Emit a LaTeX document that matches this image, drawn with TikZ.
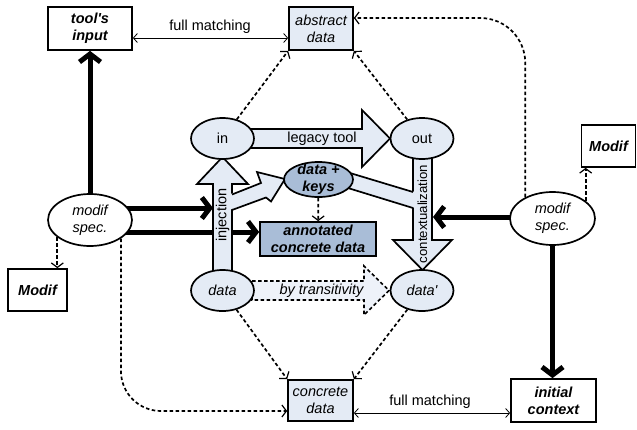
\documentclass[tikz,border=0pt]{standalone}
\usepackage{fontspec}
\setmainfont{Liberation Sans}
\usetikzlibrary{arrows.meta,shapes.geometric,calc}
\definecolor{lightfill}{HTML}{E4EBF5}
\definecolor{darkfill}{HTML}{A9BDD7}
\definecolor{transfill}{HTML}{EEF2F9}
\pgfdeclarelayer{bg}
\pgfdeclarelayer{mid}
\pgfsetlayers{bg,mid,main}
\begin{document}
\begin{tikzpicture}[x=1pt,y=-1pt,
  every node/.style={font=\fontsize{14.5}{17}\selectfont, inner sep=0pt, align=center},
  it/.style={font=\fontsize{14.5}{17}\selectfont\itshape},
  bi/.style={font=\fontsize{14.5}{17}\selectfont\bfseries\itshape},
  box/.style={rectangle, draw, line width=1.7pt},
  ell/.style={ellipse, draw, line width=1.7pt, inner xsep=0pt, inner ysep=-8pt},
  thickarrow/.style={line width=5pt, -{Straight Barb[length=8pt,width=21pt]}},
  dotarrow/.style={line width=1.7pt, dash pattern=on 3.5pt off 2.5pt, -{Straight Barb[length=4.5pt,width=12pt,line width=1.2pt]}},
  matcharrow/.style={line width=0.8pt, {Straight Barb[length=4pt,width=9pt]}-{Straight Barb[length=4pt,width=9pt]}},
  blockarrow/.style={fill=lightfill, draw, line width=1.7pt, line join=miter},
  blockedge/.style={draw, line width=1.7pt, line join=miter},
  transarrow/.style={fill=transfill, draw, line width=1.6pt, dash pattern=on 3.5pt off 2.5pt, line join=miter}
]
\useasboundingbox (0,0) rectangle (637,429);

% boxes
\node[box, bi, minimum width=84pt, minimum height=43pt] (tool) at (90,28.5) {tool\textquotesingle s\\input};
\node[box, it, fill=lightfill, minimum width=64pt, minimum height=43pt] (abstract) at (321,28.5) {abstract\\data};
\node[box, it, fill=lightfill, minimum width=65pt, minimum height=41pt] (concrete) at (320.5,400.5) {concrete\\data};
\node[box, bi, minimum width=85pt, minimum height=43pt] (initc) at (553.5,400.5) {initial\\context};
\node[box, bi, minimum width=59pt, minimum height=42pt] (modifLbox) at (37.5,290) {Modif};
\node[box, bi, minimum width=54pt, minimum height=42pt] (modifRbox) at (608.5,146) {Modif};
\node[box, bi, fill=darkfill, minimum width=116pt, minimum height=34pt] (annot) at (318,239) {annotated\\concrete data};

% ellipses
\node[ell, fill=lightfill, minimum width=63pt, minimum height=41pt] (in) at (222.5,138.5) {in};
\node[ell, fill=lightfill, minimum width=63pt, minimum height=41pt] (out) at (422,138.5) {out};
\node[ell, it, fill=lightfill, minimum width=63pt, minimum height=41pt] (data) at (222.5,290.5) {data};
\node[ell, it, fill=lightfill, minimum width=63pt, minimum height=41pt] (datap) at (422,290.5) {data\textquotesingle};
\node[ell, bi, fill=darkfill, minimum width=69pt, minimum height=35pt] (keys) at (318.5,179.5) {data +\\keys};
\node[ell, it, fill=white, minimum width=84pt, minimum height=52pt] (modifL) at (90,220) {modif\\spec.};
\node[ell, it, fill=white, minimum width=85pt, minimum height=53pt] (modifR) at (552.5,218.5) {modif\\spec.};

% labels
\node (fmtop) at (210,26.5) {full matching};
\node (fmbot) at (430,402) {full matching};
\node (legacy) at (322,139) {legacy tool};
\node[it] (trans) at (321.5,291) {by transitivity};
\node[rotate=90] (inj) at (222.5,215) {injection};
\node[rotate=90, font=\fontsize{13.2}{15}\selectfont] (ctx) at (422.5,214) {contextualization};

\coordinate (injL) at (213,208);
\coordinate (ctxR) at (433,217);
\coordinate (annW) at ([yshift=7pt]annot.west);

\begin{pgfonlayer}{bg}
\draw[thickarrow] (modifL.north) -- (tool.south);
\draw[thickarrow] (modifR.south) -- (modifR.south |- initc.north);
\draw[thickarrow] (modifL.center |- injL) -- (injL);
\draw[thickarrow] (annW -| modifL.center) -- (annW);
\draw[thickarrow] (modifR.center |- ctxR) -- (ctxR);

\draw[dotarrow] (in) -- (abstract.south west);
\draw[dotarrow] (out) -- (abstract.south east);
\draw[dotarrow] (data) -- (concrete.north west);
\draw[dotarrow] (datap) -- (concrete.north east);
\draw[dotarrow] (keys) -- (annot);
\draw[dotarrow, rounded corners=45pt] (modifR.142) |- ([yshift=10.5pt]abstract.east);
\draw[dotarrow] (modifR.28) -- (modifR.28 |- modifRbox.south);
\draw[dotarrow] (modifL.208) -- (modifL.208 |- modifLbox.north);
\draw[dotarrow, rounded corners=40pt] (modifL.329) |- ([yshift=-10.5pt]concrete.west);

\draw[matcharrow] ([yshift=-9.5pt]tool.east) -- ([yshift=-9.5pt]abstract.west);
\draw[matcharrow] ([yshift=-12.5pt]concrete.east) -- ([yshift=-12.5pt]initc.west);
\end{pgfonlayer}

\begin{pgfonlayer}{mid}
% legacy tool
\path[blockarrow] (248,129) -- (362,129) -- (362,110) -- (390,138.5) -- (362,167) -- (362,148) -- (248,148) -- cycle;
% injection
\path[blockarrow] (213,274) -- (213,184) -- (197,184) -- (222.5,157) -- (248,184) -- (232,184) -- (232,274) -- cycle;
% branch to data + keys
\fill[lightfill] (229,194.5) -- (261,183) -- (257,172) -- (285,179) -- (271,201.5) -- (266,197.5) -- (229,210) -- cycle;
\path[blockedge] (232,194.5) -- (261,183) -- (257,172) -- (285,179) -- (271,201.5) -- (266,197.5) -- (232,210);
% contextualization
\path[blockarrow] (413,155) -- (413,240) -- (393,240) -- (422.5,270) -- (452,240) -- (432,240) -- (432,155) -- cycle;
% band from data + keys
\fill[lightfill] (345,171.5) -- (415,192) -- (415,208) -- (343,186.5) -- cycle;
\path[blockedge] (345,171.5) -- (413,192);
\path[blockedge] (343,186.5) -- (413,208);
% by transitivity
\path[transarrow] (252,281) -- (364,281) -- (364,266) -- (389,290.5) -- (364,315) -- (364,300) -- (252,300) -- cycle;
\end{pgfonlayer}
\end{tikzpicture}
\end{document}
